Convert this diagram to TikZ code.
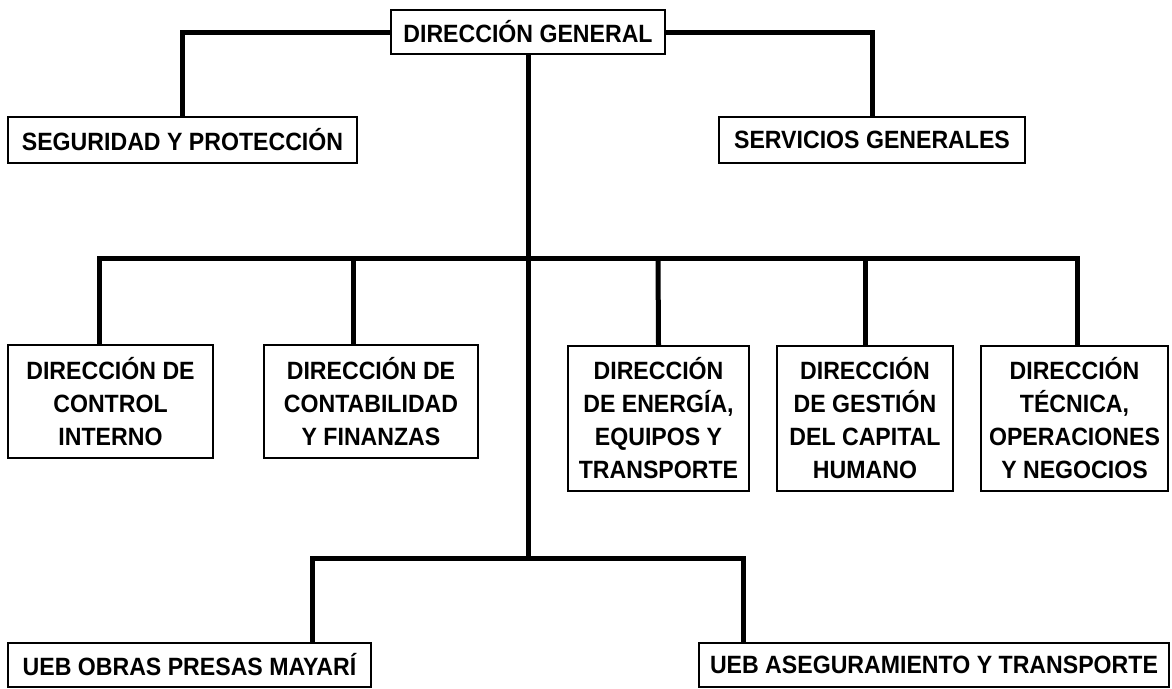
\documentclass[tikz,border=0pt]{standalone}
\usepackage{fontspec}
\setmainfont[FakeStretch=0.925]{Liberation Sans}
\usepackage{tikz}

\tikzset{
  caja/.style={draw=black, line width=2pt, fill=white, inner sep=0pt, align=center,
    font=\bfseries\fontsize{25}{33}\selectfont},
  linea/.style={draw=black, line width=5pt, line join=miter}
}

\begin{document}
\begin{tikzpicture}[x=1pt,y=-1pt]
  \useasboundingbox (0,0) rectangle (1172,688);

  % cajas
  \node[caja, minimum width=274pt, minimum height=44pt] (dg) at (528,32) {DIRECCIÓN GENERAL};
  \node[caja, minimum width=349pt, minimum height=46pt] (seg) at (182.5,140) {SEGURIDAD Y PROTECCIÓN};
  \node[caja, minimum width=306pt, minimum height=46pt] (serv) at (872,140) {SERVICIOS GENERALES};

  \node[caja, minimum width=205pt, minimum height=113pt] (ctrl) at (110.5,401.5) {DIRECCIÓN DE\\CONTROL\\INTERNO};
  \node[caja, minimum width=214pt, minimum height=113pt] (cont) at (371,401.5) {DIRECCIÓN DE\\CONTABILIDAD\\Y FINANZAS};
  \node[caja, minimum width=181pt, minimum height=145pt] (ener) at (658.5,418.5) {DIRECCIÓN\\DE ENERGÍA,\\EQUIPOS Y\\TRANSPORTE};
  \node[caja, minimum width=176pt, minimum height=145pt] (cap) at (865,418.5) {DIRECCIÓN\\DE GESTIÓN\\DEL CAPITAL\\HUMANO};
  \node[caja, minimum width=187pt, minimum height=145pt] (tec) at (1074.5,418.5) {DIRECCIÓN\\TÉCNICA,\\OPERACIONES\\Y NEGOCIOS};

  \node[caja, minimum width=363pt, minimum height=44pt] (obras) at (189.5,665) {UEB OBRAS PRESAS MAYARÍ};
  \node[caja, minimum width=470pt, minimum height=44pt] (aseg) at (934,665) {UEB ASEGURAMIENTO Y TRANSPORTE};

  % puntos de las barras
  \coordinate (b1) at (99,258);
  \coordinate (b2) at (353,258);
  \coordinate (b3) at (658,258);
  \coordinate (b4) at (865,258);
  \coordinate (b5) at (1077,258);
  \coordinate (r) at (528,558);
  \coordinate (u1) at (312,558);
  \coordinate (u2) at (743,558);

  % lineas
  \draw[linea] (dg.west) -| (seg.north);
  \draw[linea] (dg.east) -| (serv.north);
  \draw[linea] (dg.south) -- (r);
  \draw[linea] (ctrl.north -| b1) -- (b1) -- (b5) -- (tec.north -| b5);
  \draw[linea] (b2) -- (cont.north -| b2);
  \draw[linea] (b3) -- (ener.north);
  \draw[linea] (b4) -- (cap.north);
  \draw[linea] (obras.north -| u1) -- (u1) -- (u2) -- (aseg.north -| u2);
\end{tikzpicture}
\end{document}
